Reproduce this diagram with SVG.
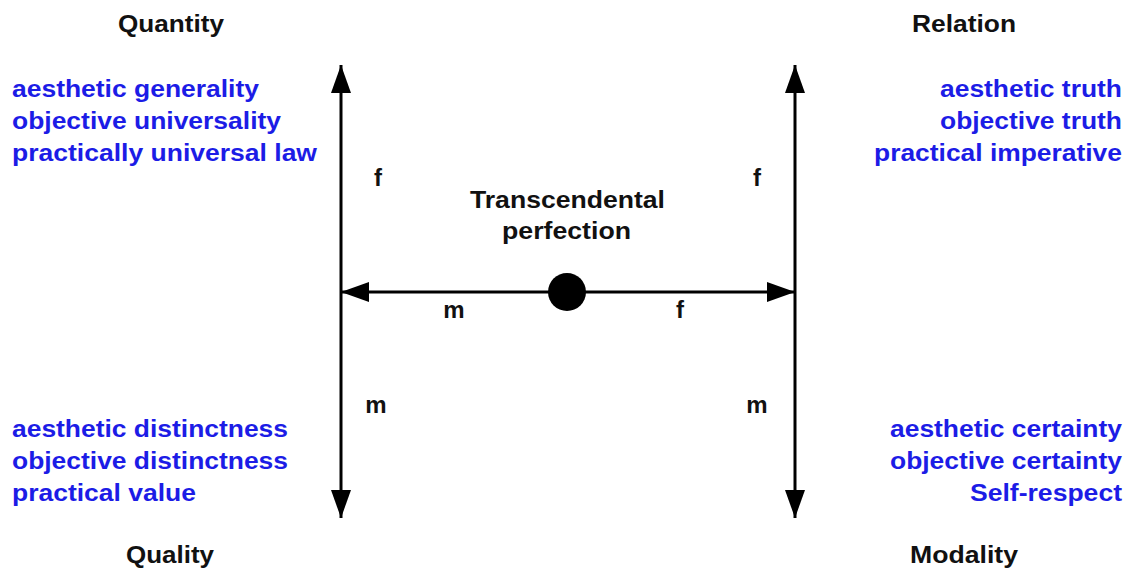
<svg xmlns="http://www.w3.org/2000/svg" width="1128" height="569" viewBox="0 0 1128 569">
<style>
.b{font-family:"Liberation Sans",Arial,sans-serif;font-weight:bold;font-size:23px;fill:#1c1ce6}
.k{font-family:"Liberation Sans",Arial,sans-serif;font-weight:bold;font-size:24px;fill:#111}
.r{text-anchor:end}
.c{text-anchor:middle}
.ln{stroke:#000;stroke-width:3;fill:none}
</style>
<defs>
<marker id="ah" viewBox="0 0 28 20" refX="28" refY="10" markerWidth="28" markerHeight="20" markerUnits="userSpaceOnUse" orient="auto">
<path d="M0,0 L28,10 L0,20 Z" fill="#000"/>
</marker>
</defs>
<rect width="1128" height="569" fill="#fff"/>
<g id="connectors">
<line class="ln" x1="341" y1="292" x2="341" y2="65" marker-end="url(#ah)"/>
<line class="ln" x1="341" y1="292" x2="341" y2="518" marker-end="url(#ah)"/>
<line class="ln" x1="795" y1="292" x2="795" y2="65" marker-end="url(#ah)"/>
<line class="ln" x1="795" y1="292" x2="795" y2="518" marker-end="url(#ah)"/>
<line class="ln" x1="567" y1="292" x2="341" y2="292" marker-end="url(#ah)"/>
<line class="ln" x1="567" y1="292" x2="795" y2="292" marker-end="url(#ah)"/>
<text class="k c" x="378" y="186">f</text>
<text class="k c" x="757" y="186">f</text>
<text class="k c" x="376" y="413">m</text>
<text class="k c" x="757" y="413">m</text>
<text class="k c" x="454" y="318">m</text>
<text class="k c" x="680" y="318">f</text>
</g>
<g id="center">
<circle cx="567" cy="292" r="19" fill="#000"/>
<text class="k c" x="567.5" y="208" textLength="195" lengthAdjust="spacingAndGlyphs">Transcendental</text>
<text class="k c" x="566.5" y="239" textLength="129" lengthAdjust="spacingAndGlyphs">perfection</text>
</g>
<g id="quantity">
<text class="k c" x="171" y="32" textLength="106" lengthAdjust="spacingAndGlyphs">Quantity</text>
<text class="b" x="12" y="97" textLength="247" lengthAdjust="spacingAndGlyphs">aesthetic generality</text>
<text class="b" x="12" y="129" textLength="269" lengthAdjust="spacingAndGlyphs">objective universality</text>
<text class="b" x="12" y="161" textLength="305" lengthAdjust="spacingAndGlyphs">practically universal law</text>
</g>
<g id="relation">
<text class="k c" x="964" y="32" textLength="104" lengthAdjust="spacingAndGlyphs">Relation</text>
<text class="b r" x="1122" y="97" textLength="182" lengthAdjust="spacingAndGlyphs">aesthetic truth</text>
<text class="b r" x="1122" y="129" textLength="182" lengthAdjust="spacingAndGlyphs">objective truth</text>
<text class="b r" x="1122" y="161" textLength="248" lengthAdjust="spacingAndGlyphs">practical imperative</text>
</g>
<g id="quality">
<text class="b" x="12" y="437" textLength="276" lengthAdjust="spacingAndGlyphs">aesthetic distinctness</text>
<text class="b" x="12" y="469" textLength="276" lengthAdjust="spacingAndGlyphs">objective distinctness</text>
<text class="b" x="12" y="501" textLength="184" lengthAdjust="spacingAndGlyphs">practical value</text>
<text class="k c" x="170" y="563" textLength="88" lengthAdjust="spacingAndGlyphs">Quality</text>
</g>
<g id="modality">
<text class="b r" x="1122" y="437" textLength="232" lengthAdjust="spacingAndGlyphs">aesthetic certainty</text>
<text class="b r" x="1122" y="469" textLength="232" lengthAdjust="spacingAndGlyphs">objective certainty</text>
<text class="b r" x="1122" y="501" textLength="152" lengthAdjust="spacingAndGlyphs">Self-respect</text>
<text class="k c" x="964" y="563" textLength="108" lengthAdjust="spacingAndGlyphs">Modality</text>
</g>
</svg>
